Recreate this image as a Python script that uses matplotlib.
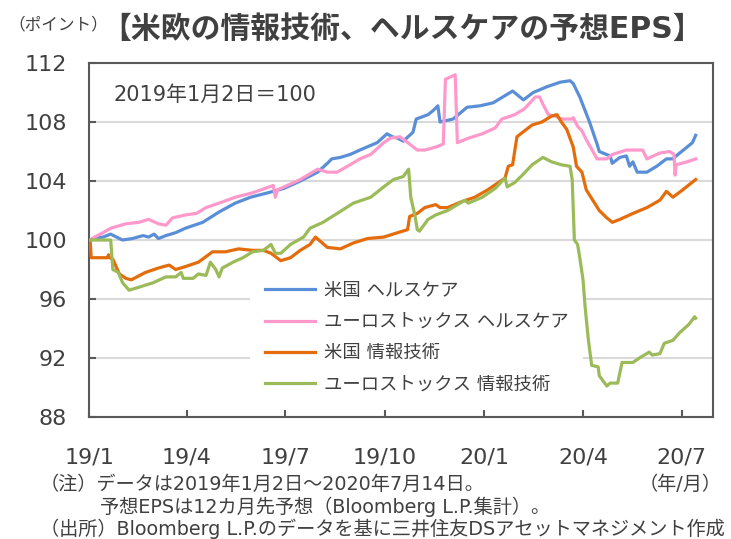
import pandas as pd
import matplotlib
matplotlib.use('Agg')
import matplotlib.pyplot as plt

plt.rcParams['font.family'] = ['DejaVu Sans', 'Noto Sans CJK JP']

# days since 2019-01-01, index value (2019/1/2 = 100)
us_hc_days = [1, 4, 13, 20, 28, 31, 40, 50, 55, 60, 64, 71, 80, 89, 105, 120, 135, 149, 165, 180,
              195, 211, 220, 224, 232, 241, 250, 266, 275, 280, 285, 290, 299, 302, 313, 318, 322,
              324, 330, 336, 349, 361, 373, 391, 401, 410, 423, 435, 444, 447, 453, 462, 469, 471,
              481, 483, 490, 496, 499, 502, 506, 515, 524, 533, 539, 542, 552, 557, 560]
us_hc_vals = [100.0, 100.1, 100.2, 100.4, 100.1, 100.0, 100.1, 100.3, 100.2, 100.4, 100.1, 100.3,
              100.5, 100.8, 101.2, 101.9, 102.5, 102.9, 103.2, 103.5, 104.0, 104.6, 105.2, 105.5,
              105.6, 105.8, 106.1, 106.6, 107.2, 107.0, 106.9, 106.7, 107.3, 108.2, 108.5, 108.8,
              109.1, 108.0, 108.1, 108.2, 109.0, 109.1, 109.3, 110.1, 109.5, 110.0, 110.4, 110.7,
              110.8, 110.6, 109.7, 108.0, 106.5, 106.0, 105.7, 105.2, 105.6, 105.7, 105.0, 105.3,
              104.6, 104.6, 105.0, 105.5, 105.5, 105.7, 106.3, 106.6, 107.1]

eu_hc_days = [1, 5, 13, 20, 34, 46, 55, 64, 71, 77, 89, 99, 108, 120, 135, 151, 170, 172, 174, 195,
              211, 220, 229, 241, 250, 260, 272, 278, 287, 296, 303, 310, 320, 327, 329, 338, 340,
              350, 363, 375, 381, 393, 402, 407, 412, 416, 419, 424, 430, 436, 446, 447, 451, 455,
              459, 469, 478, 483, 496, 511, 515, 527, 536, 540, 541, 542, 552, 560]
eu_hc_vals = [100.0, 100.2, 100.5, 100.8, 101.1, 101.2, 101.4, 101.1, 101.0, 101.5, 101.7, 101.8,
              102.2, 102.5, 102.9, 103.2, 103.7, 102.9, 103.4, 104.1, 104.8, 104.6, 104.6, 105.1,
              105.5, 105.8, 106.6, 106.9, 107.0, 106.5, 106.1, 106.1, 106.3, 106.5, 110.9, 111.2,
              106.6, 106.9, 107.2, 107.6, 108.2, 108.5, 108.9, 109.3, 109.7, 109.7, 109.2, 108.5,
              108.4, 108.2, 108.2, 108.3, 107.7, 107.4, 106.8, 105.5, 105.5, 105.8, 106.1, 106.1,
              105.5, 105.9, 106.0, 105.8, 104.4, 105.1, 105.3, 105.5]

us_it_days = [1, 2, 17, 18, 19, 22, 28, 34, 39, 52, 64, 74, 80, 89, 101, 114, 126, 138, 151, 161,
              168, 177, 186, 195, 204, 209, 220, 232, 244, 257, 272, 285, 294, 296, 303, 310, 320,
              324, 331, 344, 356, 368, 384, 387, 391, 395, 402, 409, 418, 427, 432, 436, 441, 447,
              450, 455, 459, 465, 471, 478, 483, 490, 502, 515, 527, 533, 536, 539, 548, 560]
us_it_vals = [100.0, 98.8, 98.8, 99.0, 98.8, 98.7, 97.7, 97.4, 97.3, 97.8, 98.1, 98.3, 98.0, 98.2,
              98.5, 99.2, 99.2, 99.4, 99.3, 99.3, 99.1, 98.6, 98.8, 99.3, 99.7, 100.2, 99.5, 99.4,
              99.8, 100.1, 100.2, 100.5, 100.7, 101.6, 101.8, 102.2, 102.4, 102.2, 102.2, 102.6,
              102.9, 103.4, 104.2, 105.0, 105.1, 107.0, 107.4, 107.8, 108.0, 108.4, 108.5, 108.0,
              107.5, 106.3, 105.0, 104.6, 103.4, 102.7, 102.0, 101.5, 101.2, 101.4, 101.8, 102.2,
              102.7, 103.3, 103.1, 102.9, 103.4, 104.1]

eu_it_days = [1, 20, 22, 27, 31, 37, 46, 59, 71, 80, 85, 87, 96, 101, 108, 112, 117, 120, 123, 133,
              142, 151, 161, 168, 172, 177, 186, 198, 204, 216, 229, 244, 260, 272, 281, 290, 295,
              297, 301, 303, 305, 313, 320, 331, 347, 350, 363, 375, 384, 386, 393, 400, 409, 419,
              427, 436, 444, 446, 448, 451, 453, 456, 458, 461, 464, 470, 471, 478, 481, 488, 492,
              502, 508, 517, 520, 527, 531, 539, 545, 554, 559, 560]
eu_it_vals = [100.0, 100.0, 98.0, 97.8, 97.1, 96.6, 96.8, 97.1, 97.5, 97.5, 97.8, 97.4, 97.4, 97.7,
              97.6, 98.5, 98.0, 97.5, 98.1, 98.5, 98.8, 99.2, 99.3, 99.7, 99.1, 99.1, 99.7, 100.2,
              100.8, 101.2, 101.8, 102.5, 102.9, 103.6, 104.1, 104.3, 104.8, 102.9, 101.6, 100.7,
              100.6, 101.4, 101.7, 102.0, 102.7, 102.5, 102.9, 103.5, 104.2, 103.6, 103.9, 104.4,
              105.1, 105.6, 105.3, 105.1, 105.0, 104.1, 100.0, 99.7, 98.8, 97.3, 95.4, 93.2, 91.5,
              91.4, 90.8, 90.1, 90.3, 90.3, 91.7, 91.7, 92.0, 92.4, 92.2, 92.3, 93.0, 93.2, 93.7,
              94.3, 94.8, 94.7]

series = [
    ('米国 ヘルスケア', us_hc_days, us_hc_vals, '#5A8FD8'),
    ('ユーロストックス ヘルスケア', eu_hc_days, eu_hc_vals, '#FF99CC'),
    ('米国 情報技術', us_it_days, us_it_vals, '#E46C0A'),
    ('ユーロストックス 情報技術', eu_it_days, eu_it_vals, '#9BBB59'),
]

tick_dates = ['2019-01-01', '2019-04-01', '2019-07-01', '2019-10-01',
              '2020-01-01', '2020-04-01', '2020-07-01']
tick_labels = ['19/1', '19/4', '19/7', '19/10', '20/1', '20/4', '20/7']

start = pd.Timestamp('2019-01-01')
text_c = '#404040'

fig = plt.figure(figsize=(7.31, 5.39), dpi=100)
ax = fig.add_axes([0.1218, 0.2263, 0.8536, 0.6568])

for name, d, v, c in series:
    x = start + pd.to_timedelta(d, unit='D')
    ax.plot(x, v, color=c, lw=2.3, label=name, solid_joinstyle='round', zorder=3)

ax.set_ylim(88, 112)
ax.set_yticks(range(88, 113, 4))
ax.set_xlim(start, pd.Timestamp('2020-07-30'))
ax.set_xticks(pd.to_datetime(tick_dates))
ax.set_xticklabels(tick_labels)
ax.grid(axis='y', color='#D9D9D9', lw=1.5)
ax.set_axisbelow(True)
for s in ax.spines.values():
    s.set_color('#595959')
    s.set_linewidth(1.5)
ax.tick_params(direction='in', length=5, width=1.5, color='#595959',
               labelsize=16, labelcolor=text_c)
ax.tick_params(axis='x', pad=22)
ax.tick_params(axis='y', pad=16)

ax.text(0.04, 0.91, '2019年1月2日＝100', transform=ax.transAxes, fontsize=15,
        color=text_c, va='center')

leg = ax.legend(loc='upper left', bbox_to_anchor=(241 / 731, 1 - 258 / 539),
                bbox_transform=fig.transFigure, fontsize=13.2, handlelength=2.75,
                handletextpad=0.45, labelspacing=0.72, borderpad=0.8,
                frameon=True, fancybox=False)
leg.get_frame().set_facecolor('white')
leg.get_frame().set_edgecolor('none')
leg.get_frame().set_alpha(1)
leg.set_zorder(1)
for t in leg.get_texts():
    t.set_color(text_c)

fig.text(8 / 731, 1 - 24 / 539, '（ポイント）', fontsize=12, color=text_c, va='center')
fig.text(402 / 731, 1 - 29 / 539, '【米欧の情報技術、ヘルスケアの予想EPS】', fontsize=21.5,
         fontweight='bold', color=text_c, ha='center', va='center')

fig.text(40 / 731, 1 - 484 / 539, '（注）データは2019年1月2日～2020年7月14日。',
         fontsize=13.8, color=text_c, va='center')
fig.text(100 / 731, 1 - 507 / 539, '予想EPSは12カ月先予想（Bloomberg L.P.集計）。',
         fontsize=13.8, color=text_c, va='center')
fig.text(40 / 731, 1 - 529 / 539, '（出所）Bloomberg L.P.のデータを基に三井住友DSアセットマネジメント作成',
         fontsize=13.8, color=text_c, va='center')
fig.text(722 / 731, 1 - 484 / 539, '（年/月）', fontsize=13.8, color=text_c,
         ha='right', va='center')

fig.savefig('out.png', dpi=100)
